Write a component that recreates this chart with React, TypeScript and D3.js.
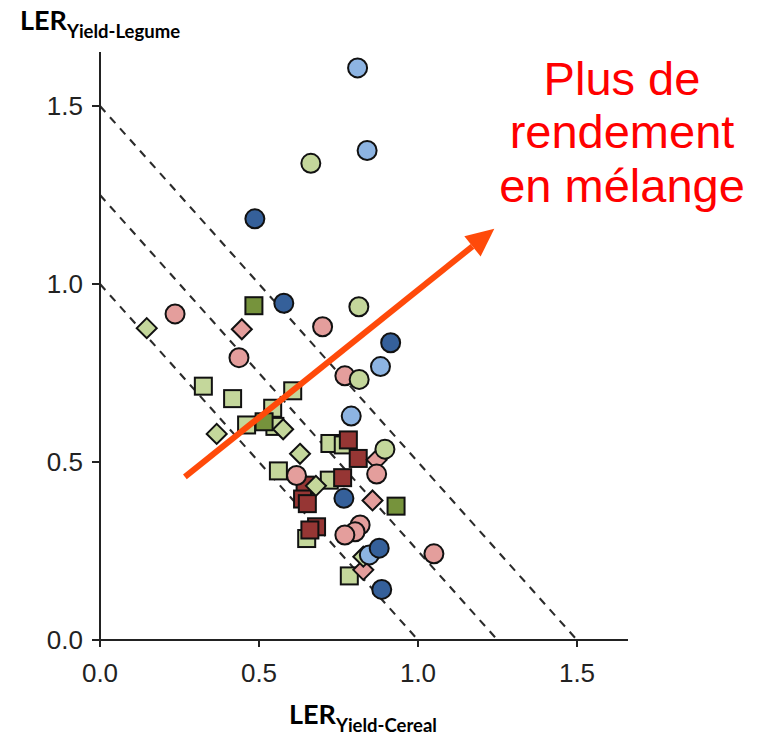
import React from "react";
import * as d3 from "d3";

const xTicks = [0, 0.5, 1.0, 1.5];
const yTicks = [0, 0.5, 1.0, 1.5];
const lerLines = [1.0, 1.25, 1.5];

const darkBlueCircles: [number, number][] = [
  [0.487, 1.183], [0.578, 0.946], [0.914, 0.835], [0.767, 0.398], [0.878, 0.258], [0.886, 0.142],
];
const lightBlueCircles: [number, number][] = [
  [0.81, 1.607], [0.84, 1.375], [0.882, 0.768], [0.79, 0.629], [0.847, 0.239],
];
const lightGreenCircles: [number, number][] = [
  [0.663, 1.339], [0.814, 0.936], [0.815, 0.732], [0.896, 0.536],
];
const pinkCircles: [number, number][] = [
  [0.236, 0.916], [0.70, 0.88], [0.437, 0.793], [0.77, 0.742], [0.618, 0.462], [0.87, 0.466],
  [0.818, 0.323], [0.802, 0.304], [0.77, 0.295], [1.05, 0.242],
];
const lightGreenSquares: [number, number][] = [
  [0.325, 0.713], [0.417, 0.678], [0.606, 0.70], [0.543, 0.651], [0.461, 0.604], [0.55, 0.60],
  [0.561, 0.475], [0.723, 0.552], [0.765, 0.548], [0.721, 0.449], [0.65, 0.285], [0.784, 0.18],
];
const darkGreenSquares: [number, number][] = [
  [0.484, 0.939], [0.516, 0.613], [0.931, 0.376],
];
const darkRedSquares: [number, number][] = [
  [0.781, 0.562], [0.812, 0.51], [0.763, 0.456], [0.645, 0.435], [0.637, 0.396], [0.652, 0.383],
  [0.681, 0.318], [0.66, 0.309],
];
const lightGreenDiamonds: [number, number][] = [
  [0.147, 0.876], [0.367, 0.579], [0.576, 0.592], [0.629, 0.523], [0.679, 0.433], [0.828, 0.234],
];
const pinkDiamonds: [number, number][] = [
  [0.446, 0.873], [0.87, 0.506], [0.857, 0.392], [0.828, 0.197],
];

const arrowFrom: [number, number] = [0.267, 0.458];
const arrowTo: [number, number] = [1.24, 1.155];

const C = {
  darkBlue: "#35609a",
  lightBlue: "#8db4e2",
  lightGreen: "#c4d79b",
  darkGreen: "#76933c",
  pink: "#e49e9c",
  darkRed: "#963634",
};

export default function App() {
  const x = d3.scaleLinear().domain([0, 1.5]).range([100, 577]);
  const y = d3.scaleLinear().domain([0, 1.5]).range([640, 106]);
  const axisColor = "#222";
  const tickFont = "'Liberation Sans', Arial, sans-serif";
  const labelFont = "Lato, 'Open Sans', sans-serif";
  const stroke = "#111";
  const sw = 2;

  const circle = (pts: [number, number][], fill: string, key: string) =>
    pts.map((p, i) => (
      <circle key={key + i} cx={x(p[0])} cy={y(p[1])} r={9.5} fill={fill} stroke={stroke} strokeWidth={sw} />
    ));
  const square = (pts: [number, number][], fill: string, key: string) =>
    pts.map((p, i) => (
      <rect key={key + i} x={x(p[0]) - 8.5} y={y(p[1]) - 8.5} width={17} height={17} fill={fill} stroke={stroke} strokeWidth={sw} />
    ));
  const h = 10;
  const diamondPath = `M0,${-h}L${h},0L0,${h}L${-h},0Z`;
  const diamond = (pts: [number, number][], fill: string, key: string) =>
    pts.map((p, i) => (
      <path key={key + i} d={diamondPath} transform={`translate(${x(p[0])},${y(p[1])})`} fill={fill} stroke={stroke} strokeWidth={sw} />
    ));

  const ax = x(arrowFrom[0]), ay = y(arrowFrom[1]);
  const bx = x(arrowTo[0]), by = y(arrowTo[1]);
  const ang = Math.atan2(by - ay, bx - ax);
  const headLen = 28, headW = 13;
  const lx = bx - headLen * Math.cos(ang), ly = by - headLen * Math.sin(ang);
  const head = [
    [bx, by],
    [lx - headW * Math.sin(ang), ly + headW * Math.cos(ang)],
    [lx + headW * Math.sin(ang), ly - headW * Math.cos(ang)],
  ];

  return (
    <svg width={765} height={737} style={{ display: "block", position: "absolute", left: 0, top: 0 }}>
      <rect width={765} height={737} fill="#fff" />
      {lerLines.map((v) => (
        <line key={v} x1={x(0)} y1={y(v)} x2={x(v)} y2={y(0)} stroke="#2a2a2a" strokeWidth={2.1} strokeDasharray="8,7" />
      ))}
      <line x1={x(0)} y1={52} x2={x(0)} y2={y(0)} stroke={axisColor} strokeWidth={2} />
      <line x1={x(0)} y1={y(0)} x2={628} y2={y(0)} stroke={axisColor} strokeWidth={2} />
      {yTicks.map((t) => (
        <g key={"yt" + t}>
          <line x1={x(0) - 8} x2={x(0)} y1={y(t)} y2={y(t)} stroke={axisColor} strokeWidth={2} />
          <text x={x(0) - 17} y={y(t)} dy="0.36em" textAnchor="end" fontFamily={tickFont} fontSize={26} fill="#222">
            {t.toFixed(1)}
          </text>
        </g>
      ))}
      {xTicks.map((t) => (
        <g key={"xt" + t}>
          <line x1={x(t)} x2={x(t)} y1={y(0)} y2={y(0) + 7} stroke={axisColor} strokeWidth={2} />
          <text x={x(t)} y={y(0) + 42} textAnchor="middle" fontFamily={tickFont} fontSize={26} fill="#222">
            {t.toFixed(1)}
          </text>
        </g>
      ))}
      {square(lightGreenSquares, C.lightGreen, "lgs")}
      {square(darkGreenSquares, C.darkGreen, "dgs")}
      {square(darkRedSquares, C.darkRed, "drs")}
      {diamond(pinkDiamonds, C.pink, "pd")}
      {diamond(lightGreenDiamonds, C.lightGreen, "lgd")}
      {circle(pinkCircles, C.pink, "pc")}
      {circle(lightGreenCircles, C.lightGreen, "lgc")}
      {circle(lightBlueCircles, C.lightBlue, "lbc")}
      {circle(darkBlueCircles, C.darkBlue, "dbc")}
      <line x1={ax} y1={ay} x2={lx} y2={ly} stroke="#ff4a0a" strokeWidth={6} />
      <polygon points={head.map((p) => p.join(",")).join(" ")} fill="#ff4a0a" />
      <text x={622} y={95} textAnchor="middle" fontFamily={tickFont} fontSize={47} fill="#ff0000">
        <tspan x={622} y={95}>Plus de</tspan>
        <tspan x={622} y={148}>rendement</tspan>
        <tspan x={622} y={202}>en mélange</tspan>
      </text>
      <text x={20} y={30} fontFamily={labelFont} fontWeight={700} fontSize={27} fill="#000">
        LER<tspan fontSize={18.5} dy={8}>Yield-Legume</tspan>
      </text>
      <text x={289} y={724} fontFamily={labelFont} fontWeight={700} fontSize={27} fill="#000">
        LER<tspan fontSize={18.5} dy={8}>Yield-Cereal</tspan>
      </text>
    </svg>
  );
}
